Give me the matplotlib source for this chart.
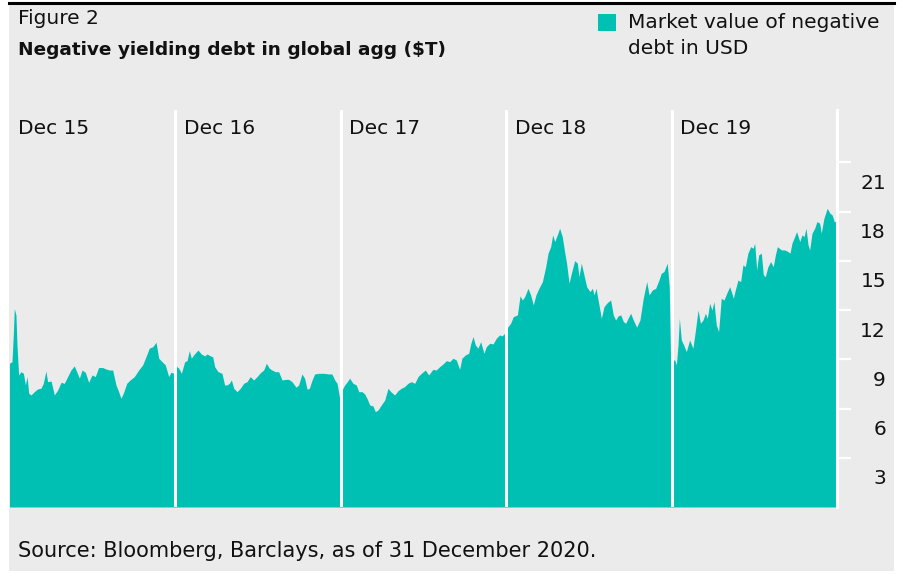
import matplotlib
matplotlib.use("Agg")
import matplotlib.pyplot as plt
from matplotlib.patches import Rectangle
from matplotlib.lines import Line2D
from matplotlib.transforms import offset_copy

# --- data: years since 31 Dec 2015, market value of negative debt ($T) ---
t_2016 = [0.0, 0.015, 0.023, 0.029, 0.039, 0.045, 0.055, 0.069, 0.084, 0.096, 0.106, 0.116,
          0.130, 0.150, 0.170, 0.190, 0.204, 0.220, 0.230, 0.251, 0.271, 0.291, 0.311, 0.331,
          0.351, 0.371, 0.391, 0.406, 0.422, 0.438, 0.458, 0.478, 0.498, 0.518, 0.538, 0.563,
          0.583, 0.603, 0.623, 0.643, 0.659, 0.673, 0.687, 0.708, 0.728, 0.754, 0.780, 0.804,
          0.824, 0.844, 0.865, 0.885, 0.901, 0.921, 0.941, 0.961, 0.975, 0.995]
v_2016 = [8.76, 8.86, 10.5, 12.1, 11.7, 9.9, 8.05, 8.25, 8.15, 7.44, 7.95, 6.93,
          6.83, 7.03, 7.2, 7.24, 7.54, 8.29, 7.64, 7.68, 6.83, 7.13, 7.6, 7.54,
          7.95, 8.35, 8.6, 8.25, 7.85, 8.35, 8.21, 7.6, 8.05, 7.95, 8.5, 8.5,
          8.41, 8.35, 8.35, 7.44, 7.03, 6.63, 6.93, 7.54, 7.74, 7.95, 8.35, 8.66,
          9.16, 9.68, 9.77, 10.04, 9.07, 8.86, 8.66, 7.95, 8.21, 8.15]

t_2017 = [1.005, 1.022, 1.038, 1.058, 1.072, 1.086, 1.098, 1.112, 1.138, 1.158, 1.179, 1.193,
          1.213, 1.227, 1.239, 1.259, 1.283, 1.299, 1.313, 1.327, 1.340, 1.354, 1.374, 1.394,
          1.414, 1.434, 1.454, 1.474, 1.495, 1.515, 1.535, 1.551, 1.569, 1.585, 1.605, 1.625,
          1.646, 1.666, 1.686, 1.706, 1.730, 1.746, 1.766, 1.782, 1.797, 1.811, 1.827, 1.843,
          1.867, 1.897, 1.927, 1.947, 1.964, 1.978, 1.992]
v_2017 = [8.6, 8.46, 8.15, 8.86, 8.92, 9.53, 9.07, 9.27, 9.57, 9.33, 9.21, 9.33,
          9.21, 9.16, 8.55, 8.25, 8.15, 7.44, 7.44, 7.54, 7.74, 7.24, 7.03, 7.24,
          7.54, 7.64, 7.95, 7.74, 7.95, 8.19, 8.35, 8.76, 8.46, 8.35, 8.25, 8.25,
          7.74, 7.78, 7.78, 7.64, 7.3, 7.44, 8.11, 7.85, 7.18, 7.24, 7.74, 8.11,
          8.15, 8.15, 8.11, 8.11, 7.74, 7.54, 6.73]

t_2018 = [2.008, 2.024, 2.040, 2.054, 2.074, 2.094, 2.109, 2.129, 2.145, 2.161, 2.175, 2.195,
          2.209, 2.225, 2.245, 2.266, 2.286, 2.302, 2.326, 2.346, 2.366, 2.386, 2.406, 2.427,
          2.447, 2.467, 2.487, 2.511, 2.531, 2.557, 2.577, 2.597, 2.618, 2.638, 2.658, 2.678,
          2.698, 2.718, 2.732, 2.753, 2.773, 2.785, 2.799, 2.813, 2.829, 2.845, 2.865, 2.879,
          2.900, 2.920, 2.940, 2.960, 2.974, 2.990]
v_2018 = [7.13, 7.44, 7.64, 7.85, 7.54, 7.44, 7.03, 7.03, 6.89, 6.57, 6.22, 6.16,
          5.81, 5.91, 6.22, 6.52, 7.24, 7.03, 6.83, 7.09, 7.24, 7.34, 7.54, 7.64,
          7.54, 7.95, 8.15, 8.35, 8.05, 8.39, 8.35, 8.55, 8.72, 8.92, 8.86, 9.07,
          8.96, 8.39, 9.07, 9.27, 9.37, 9.94, 10.39, 9.88, 9.68, 10.08, 9.37, 9.77,
          9.98, 9.94, 10.29, 10.49, 10.43, 10.59]

t_2019 = [3.010, 3.026, 3.042, 3.067, 3.083, 3.097, 3.111, 3.131, 3.147, 3.163, 3.179, 3.197,
          3.218, 3.238, 3.252, 3.268, 3.280, 3.292, 3.308, 3.322, 3.338, 3.352, 3.364, 3.379,
          3.393, 3.413, 3.429, 3.439, 3.453, 3.469, 3.485, 3.505, 3.520, 3.530, 3.542, 3.556,
          3.574, 3.590, 3.610, 3.630, 3.646, 3.660, 3.675, 3.691, 3.707, 3.721, 3.735, 3.751,
          3.767, 3.787, 3.807, 3.827, 3.848, 3.862, 3.882, 3.902, 3.922, 3.936, 3.952, 3.972,
          3.984, 3.992]
v_2019 = [10.99, 11.2, 11.6, 11.71, 12.87, 12.62, 12.82, 13.33, 12.93, 12.32, 12.93, 13.33,
          13.74, 14.65, 15.47, 15.87, 16.59, 16.18, 16.59, 16.99, 16.48, 15.57, 14.86, 13.64,
          14.25, 15.02, 14.86, 14.04, 14.86, 14.15, 13.43, 13.13, 13.33, 12.93, 13.33, 12.52,
          11.5, 12.21, 12.46, 12.62, 11.71, 11.4, 11.65, 11.71, 11.3, 11.2, 11.5, 11.81,
          11.4, 10.96, 11.4, 12.72, 13.74, 12.93, 13.23, 13.33, 13.84, 14.25, 14.35, 14.86,
          13.43, 8.96]

t_2020 = [4.017, 4.027, 4.037, 4.045, 4.057, 4.071, 4.087, 4.107, 4.127, 4.141, 4.158, 4.172,
          4.188, 4.202, 4.214, 4.228, 4.242, 4.254, 4.268, 4.282, 4.298, 4.315, 4.331, 4.349,
          4.359, 4.371, 4.383, 4.399, 4.415, 4.429, 4.443, 4.459, 4.476, 4.490, 4.500, 4.512,
          4.524, 4.540, 4.552, 4.564, 4.580, 4.596, 4.612, 4.625, 4.637, 4.661, 4.681, 4.701,
          4.713, 4.725, 4.741, 4.753, 4.772, 4.786, 4.798, 4.810, 4.822, 4.832, 4.846, 4.862,
          4.876, 4.892, 4.902, 4.918, 4.938, 4.954, 4.968, 4.980, 4.990, 5.0]
v_2020 = [8.96, 8.66, 9.88, 11.5, 10.18, 9.88, 9.47, 10.18, 9.68, 10.69, 12.01, 11.2,
          11.4, 11.81, 11.5, 12.42, 12.01, 12.52, 11.1, 10.69, 12.72, 12.62, 13.03, 13.43,
          13.13, 12.72, 13.23, 13.84, 13.74, 14.76, 14.65, 15.47, 15.87, 15.77, 16.08, 14.45,
          15.37, 15.47, 14.15, 14.04, 14.65, 14.96, 14.65, 15.37, 15.87, 15.67, 15.67, 15.57,
          15.47, 16.08, 16.48, 16.79, 16.18, 16.59, 16.48, 16.99, 15.98, 15.67, 16.69, 16.99,
          17.4, 17.3, 16.69, 17.6, 18.21, 17.91, 17.8, 17.4, 17.4, 17.8]

year_labels = ["Dec 15", "Dec 16", "Dec 17", "Dec 18", "Dec 19"]
y_ticks = [3, 6, 9, 12, 15, 18, 21]

t = t_2016 + t_2017 + t_2018 + t_2019 + t_2020
v = v_2016 + v_2017 + v_2018 + v_2019 + v_2020

TEAL = "#00C0B4"
GREY = "#EBEBEB"
W, H = 903, 575

plt.rcParams["font.family"] = "DejaVu Sans"
FS = 14.5


def fx(x):
    return x / W


def fy(y):
    return 1 - y / H


fig = plt.figure(figsize=(W / 100, H / 100), dpi=100, facecolor="white")

# grey panel + black rule on top
fig.add_artist(Rectangle((fx(9), fy(571)), fx(894) - fx(9), fy(4) - fy(571),
                         transform=fig.transFigure, facecolor=GREY, edgecolor="none", zorder=-1))
fig.add_artist(Line2D([fx(9), fx(894)], [fy(2.5), fy(2.5)], transform=fig.transFigure,
                      color="black", linewidth=2.2))

ax = fig.add_axes([fx(9.5), fy(507), fx(837.5) - fx(9.5), fy(110) - fy(507)])
ax.set_facecolor(GREY)
ax.fill_between(t, 0, v, color=TEAL, linewidth=0, zorder=1)
ax.set_xlim(0, 5.0)
ax.set_ylim(0, 24.2)

for k in range(1, 5):
    ax.axvline(k, color="white", linewidth=2.2, zorder=3)

for s in ["top", "left", "bottom"]:
    ax.spines[s].set_visible(False)
ax.spines["right"].set_color("white")
ax.spines["right"].set_linewidth(2.2)
ax.spines["right"].set_zorder(4)

ax.set_xticks([])
ax.yaxis.tick_right()
ax.set_yticks(y_ticks)
ax.tick_params(axis="y", length=10, width=1.6, color="white", direction="out", labelright=False)

label_tr = offset_copy(ax.get_yaxis_transform(), fig=fig, x=0, y=-21, units="dots")
for val in y_ticks:
    ax.text((886 - 9.5) / 828, val, str(val), transform=label_tr, ha="right", va="center",
            fontsize=FS, color="#111111")

dec_tr = offset_copy(ax.get_xaxis_transform(), fig=fig, x=8.5, y=0, units="dots")
for k, lab in enumerate(year_labels):
    ax.text(k, (507 - 128) / 397, lab, transform=dec_tr, ha="left", va="center",
            fontsize=FS, color="#111111")

# titles
fig.text(fx(18), fy(19), "Figure 2", ha="left", va="center", fontsize=FS, color="#111111")
fig.text(fx(18), fy(50), "Negative yielding debt in global agg ($T)", ha="left", va="center",
         fontsize=13.3, fontweight="bold", color="#111111")

# legend
fig.add_artist(Rectangle((fx(598), fy(31)), fx(616) - fx(598), fy(14) - fy(31),
                         transform=fig.transFigure, facecolor=TEAL, edgecolor="none"))
fig.text(fx(628), fy(22), "Market value of negative", ha="left", va="center",
         fontsize=FS, color="#111111")
fig.text(fx(628), fy(48), "debt in USD", ha="left", va="center", fontsize=FS, color="#111111")

fig.text(fx(18), fy(551), "Source: Bloomberg, Barclays, as of 31 December 2020.", ha="left",
         va="center", fontsize=15, color="#111111")

fig.savefig("out.png", dpi=100, facecolor="white")
